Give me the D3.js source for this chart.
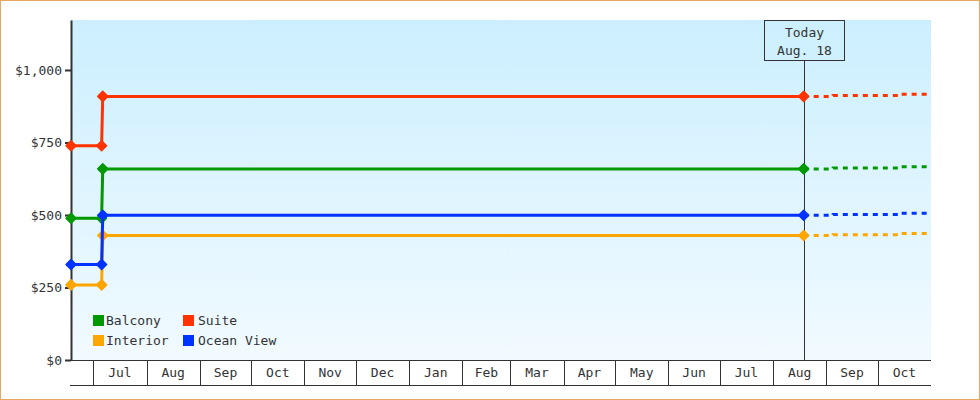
<!DOCTYPE html>
<html>
<head>
<meta charset="utf-8">
<script src="https://cdn.jsdelivr.net/npm/d3@7"></script>
<style>
  html, body { margin: 0; padding: 0; background: #fff; }
  svg { display: block; font-family: "DejaVu Sans Mono", monospace; font-size: 13px; }
  .lbl { fill: #333; }
</style>
</head>
<body>
<div id="chart"></div>
<script>
/* cabin price history, step-ish lines up to "today" then dotted forecast */
var SERIES = ["Balcony", "Suite", "Interior", "Ocean View"];
var COLORS = ["#009900", "#ff3300", "#ffa500", "#0033ff"];

// observed prices (markers on each)
var HIST_DATES = ["2018-06-18", "2018-07-05T20:00", "2018-07-06T12:00", "2019-08-18T20:00"];
var BALCONY    = [489, 489, 659, 659];
var SUITE      = [739, 739, 909, 909];
var INTERIOR   = [259, 259, 429, 429];
var OCEAN_VIEW = [329, 329, 499, 499];

// forecast after today (dotted)
var FC_DATES      = ["2019-08-18T20:00", "2019-09-05", "2019-10-14", "2019-11-01"];
var FC_BALCONY    = [659, 662, 666, 666];
var FC_SUITE      = [909, 912, 916, 916];
var FC_INTERIOR   = [429, 432, 436, 436];
var FC_OCEAN_VIEW = [499, 502, 506, 506];

var Y_TICKS = [0, 250, 500, 750, 1000];
var X_START = "2018-06-18", X_END = "2019-11-01";
var TODAY = "2019-08-18T20:00";
var TODAY_LINES = ["Today", "Aug. 18"];
var LEGEND_ORDER = [0, 1, 2, 3];   // Balcony, Suite / Interior, Ocean View

(function () {
  "use strict";
  var W = 980, H = 400;
  var L = 71, R = 931, T = 20, B = 360, AX2 = 385;
  var parse = function (s) { return new Date(s); };

  var hist = [BALCONY, SUITE, INTERIOR, OCEAN_VIEW];
  var fc = [FC_BALCONY, FC_SUITE, FC_INTERIOR, FC_OCEAN_VIEW];

  var x = d3.scaleTime().domain([parse(X_START), parse(X_END)]).range([L, R]);
  var y = d3.scaleLinear().domain([0, 1172.4]).range([B, T]);

  var svg = d3.select("#chart").append("svg").attr("width", W).attr("height", H);

  var defs = svg.append("defs");
  var g = defs.append("linearGradient").attr("id", "bg").attr("x1", 0).attr("y1", 0).attr("x2", 0).attr("y2", 1);
  g.append("stop").attr("offset", "0%").attr("stop-color", "#ccefff");
  g.append("stop").attr("offset", "100%").attr("stop-color", "#f1faff");

  // outer frame
  svg.append("rect").attr("x", 0.5).attr("y", 0.5).attr("width", W - 1).attr("height", H - 1)
    .attr("fill", "#fff").attr("stroke", "#e8a862").attr("stroke-width", 1);

  svg.append("rect").attr("x", L).attr("y", T).attr("width", R - L).attr("height", B - T).attr("fill", "url(#bg)");

  // ---- month band under the plot ----
  var months = d3.timeMonth.range(d3.timeMonth.ceil(x.domain()[0]), x.domain()[1]);
  svg.append("line").attr("x1", L - 1).attr("x2", R).attr("y1", B + 0.5).attr("y2", B + 0.5).attr("stroke", "#333");
  svg.append("line").attr("x1", L - 1).attr("x2", R).attr("y1", AX2 + 0.5).attr("y2", AX2 + 0.5).attr("stroke", "#333");
  svg.selectAll(".mdiv").data(months).enter().append("line")
    .attr("x1", function (d) { return Math.round(x(d)) + 0.5; })
    .attr("x2", function (d) { return Math.round(x(d)) + 0.5; })
    .attr("y1", B).attr("y2", AX2).attr("stroke", "#333");
  svg.selectAll(".mlbl").data(months).enter().append("text").attr("class", "lbl")
    .attr("x", function (d) { return (x(d) + x(d3.timeMonth.offset(d, 1))) / 2; })
    .attr("y", 377).attr("text-anchor", "middle")
    .text(d3.timeFormat("%b"));

  // ---- y axis ----
  var yAxis = d3.axisLeft(y).tickValues(Y_TICKS).tickSize(6).tickSizeOuter(0).tickPadding(3)
    .tickFormat(d3.format("$,"));
  var ya = svg.append("g").attr("transform", "translate(" + L + ",0)").call(yAxis);
  ya.attr("font-size", null).attr("font-family", null);
  ya.select(".domain").attr("stroke", "#333").attr("stroke-width", 2);
  ya.selectAll(".tick line").attr("stroke", "#333").attr("stroke-width", 2);
  ya.selectAll(".tick text").attr("fill", "#333");

  // ---- today marker ----
  var tx = Math.round(x(parse(TODAY))) + 0.5;
  svg.append("line").attr("x1", tx).attr("x2", tx).attr("y1", T + 40).attr("y2", B).attr("stroke", "#333");
  svg.append("rect").attr("x", tx - 40).attr("y", T + 0.5).attr("width", 80).attr("height", 40)
    .attr("fill", "none").attr("stroke", "#333");
  TODAY_LINES.forEach(function (t, i) {
    svg.append("text").attr("class", "lbl").attr("x", tx).attr("y", 36.5 + i * 18)
      .attr("text-anchor", "middle").text(t);
  });

  // ---- series ----
  var line = d3.line().x(function (d) { return x(d.t); }).y(function (d) { return y(d.v); });
  var stepLine = d3.line().curve(d3.curveStepAfter).x(function (d) { return x(d.t); }).y(function (d) { return y(d.v); });
  var diamond = "M0,-5L5,0L0,5L-5,0Z";

  SERIES.forEach(function (name, i) {
    var hp = HIST_DATES.map(function (d, j) { return { t: parse(d), v: hist[i][j] }; });
    var fp = FC_DATES.map(function (d, j) { return { t: parse(d), v: fc[i][j] }; });
    svg.append("path").attr("d", stepLine(fp)).attr("fill", "none").attr("stroke", COLORS[i])
      .attr("stroke-width", 3).attr("stroke-dasharray", "5,5");
    svg.append("path").attr("d", line(hp)).attr("fill", "none").attr("stroke", COLORS[i])
      .attr("stroke-width", 3).attr("stroke-linejoin", "round");
    // diamonds with a thin same-colour rim so they read a touch rounder/bigger
    svg.selectAll(null).data(hp).enter().append("path").attr("d", diamond)
      .attr("fill", COLORS[i]).attr("stroke", COLORS[i]).attr("stroke-width", 1.5).attr("stroke-linejoin", "round")
      .attr("transform", function (d) { return "translate(" + x(d.t) + "," + y(d.v) + ")"; });
  });

  // ---- legend ----
  LEGEND_ORDER.forEach(function (i, k) {
    var lx = k % 2 === 0 ? 93 : 183, ly = k < 2 ? 315 : 335;
    svg.append("rect").attr("x", lx).attr("y", ly).attr("width", 11).attr("height", 11).attr("fill", COLORS[i]);
    svg.append("text").attr("class", "lbl").attr("x", lx + (k % 2 === 0 ? 13 : 15)).attr("y", ly + 10).text(SERIES[i]);
  });
})();
</script>
</body>
</html>
